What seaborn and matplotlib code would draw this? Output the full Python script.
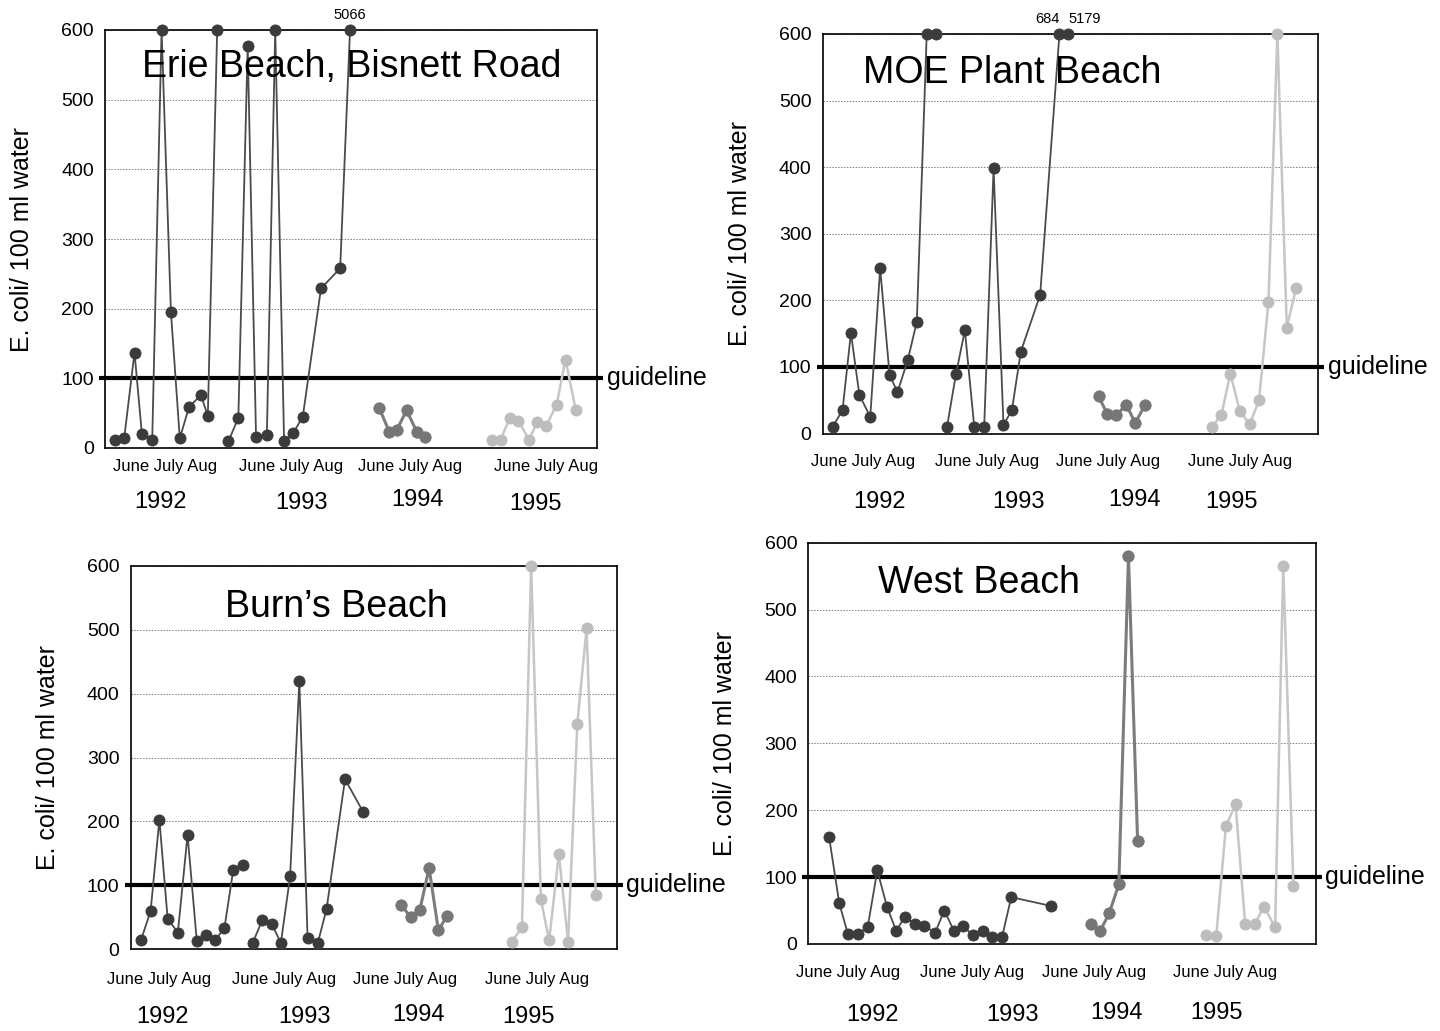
import numpy as np
import pandas as pd
import matplotlib
matplotlib.use("Agg")
import matplotlib.pyplot as plt
import seaborn as sns

sns.set_theme(style="white")
plt.rcParams["font.family"] = ["Liberation Sans", "DejaVu Sans"]
plt.rcParams["text.color"] = "black"
plt.rcParams["axes.labelcolor"] = "black"
plt.rcParams["ytick.color"] = "black"

YMAX = 600
GUIDELINE = 100
YEARS = ["1992", "1993", "1994", "1995"]

# Sampling positions along the four-summer timeline (0-100) and E. coli counts per 100 ml.
# Counts above 600 are shown at the top of the axis.
erie_t92 = [2.0, 3.9, 6.0, 7.5, 9.6, 11.5, 13.4, 15.2, 17.1, 19.5, 20.9, 22.8]
erie_v92 = [12, 14, 137, 20, 12, 600, 195, 14, 59, 76, 46, 600]
erie_t93 = [25.1, 27.1, 29.0, 30.7, 32.9, 34.6, 36.4, 38.3, 40.2, 43.9, 47.8, 49.8]
erie_v93 = [10, 43, 577, 16, 19, 600, 10, 22, 45, 229, 258, 5066]
erie_t94 = [55.7, 57.8, 59.3, 61.3, 63.4, 65.0]
erie_v94 = [58, 23, 26, 54, 23, 16]
erie_t95 = [78.7, 80.4, 82.3, 84.0, 86.2, 87.9, 89.6, 91.8, 93.6, 95.7]
erie_v95 = [12, 12, 43, 39, 12, 38, 31, 62, 127, 54]

moe_t92 = [2.0, 4.0, 5.7, 7.4, 9.6, 11.6, 13.5, 15.1, 17.2, 19.0, 21.0, 22.9]
moe_v92 = [10, 35, 151, 58, 25, 248, 88, 62, 111, 168, 600, 600]
moe_t93 = [25.1, 26.9, 28.7, 30.6, 32.6, 34.5, 36.5, 38.2, 40.0, 43.9, 47.8, 49.6]
moe_v93 = [10, 89, 155, 10, 10, 398, 13, 35, 123, 208, 684, 5179]
moe_t94 = [55.7, 57.4, 59.3, 61.3, 63.1, 65.1]
moe_v94 = [56, 30, 28, 43, 16, 43]
moe_t95 = [78.6, 80.5, 82.3, 84.2, 86.2, 88.1, 90.0, 91.8, 93.7, 95.6]
moe_v95 = [10, 28, 90, 34, 14, 50, 198, 600, 159, 219]

burn_t92 = [2.1, 4.1, 5.9, 7.6, 9.7, 11.7, 13.6, 15.4, 17.4, 19.3, 21.1, 23.1]
burn_v92 = [14, 60, 203, 48, 26, 179, 13, 22, 14, 34, 124, 132]
burn_t93 = [25.1, 27.1, 29.0, 30.9, 32.8, 34.7, 36.4, 38.5, 40.3, 44.1, 47.9]
burn_v93 = [10, 46, 40, 10, 114, 420, 17, 10, 63, 266, 214]
burn_t94 = [55.6, 57.6, 59.5, 61.4, 63.3, 65.1]
burn_v94 = [69, 51, 62, 127, 30, 52]
burn_t95 = [78.5, 80.5, 82.4, 84.4, 86.1, 88.1, 90.0, 91.9, 93.8, 95.7]
burn_v95 = [12, 35, 600, 78, 14, 149, 12, 353, 502, 85]

west_t92 = [4.1, 6.1, 7.8, 9.7, 11.7, 13.6, 15.5, 17.3, 19.1, 21.0, 22.9, 25.0, 26.8]
west_v92 = [160, 61, 15, 15, 25, 110, 56, 20, 41, 30, 27, 17, 50]
west_t93 = [28.7, 30.5, 32.4, 34.4, 36.3, 38.2, 40.0, 47.8]
west_v93 = [20, 27, 13, 20, 10, 11, 70, 57]
west_t94 = [55.7, 57.5, 59.3, 61.2, 63.1, 64.9]
west_v94 = [30, 19, 46, 89, 580, 154]
west_t95 = [78.3, 80.4, 82.3, 84.2, 86.1, 88.0, 89.8, 92.0, 93.6, 95.6]
west_v95 = [14, 12, 176, 209, 30, 30, 56, 25, 565, 87]

# Counts written above the axis for off-scale samples: (timeline position, count, x offset in pt)
erie_notes = [(erie_t93[-1], erie_v93[-1], 0)]
moe_notes = [(moe_t93[-2], moe_v93[-2], -9), (moe_t93[-1], moe_v93[-1], 12)]

year_style = {
    "1992": dict(line="#4b4b4b", face="#3b3b3b", lw=1.3, ms=8.0),
    "1993": dict(line="#4b4b4b", face="#3b3b3b", lw=1.3, ms=8.0),
    "1994": dict(line="#7c7c7c", face="#767676", lw=2.2, ms=8.2),
    "1995": dict(line="#c6c6c6", face="#bdbdbd", lw=1.8, ms=8.0),
}

fig = plt.figure(figsize=(14.4, 10.31), dpi=100)
W, H = 1440, 1031


def make_axes(left, top, right, bottom):
    return fig.add_axes([left / W, 1 - bottom / H, (right - left) / W, (bottom - top) / H])


panels = [
    dict(box=(105, 30, 597, 448), title="Erie Beach, Bisnett Road", title_xy=(0.502, 0.911),
         segs=[(erie_t92, erie_v92, "1992"), (erie_t93, erie_v93, "1993"),
               (erie_t94, erie_v94, "1994"), (erie_t95, erie_v95, "1995")],
         notes=erie_notes,
         months_x=[0.122, 0.378, 0.620, 0.896], months_dy=19,
         years_x=[0.112, 0.400, 0.636, 0.876], years_dy=[54, 55, 52, 56]),
    dict(box=(822.7, 34, 1318, 433.5), title="MOE Plant Beach", title_xy=(0.382, 0.902),
         segs=[(moe_t92, moe_v92, "1992"), (moe_t93, moe_v93, "1993"),
               (moe_t94, moe_v94, "1994"), (moe_t95, moe_v95, "1995")],
         notes=moe_notes,
         months_x=[0.081, 0.332, 0.576, 0.843], months_dy=28,
         years_x=[0.114, 0.396, 0.629, 0.825], years_dy=[68, 68, 66, 68]),
    dict(box=(130.7, 565.7, 616.7, 949.3), title="Burn\u2019s Beach", title_xy=(0.424, 0.892),
         segs=[(burn_t92, burn_v92, "1992"), (burn_t93, burn_v93, "1993"),
               (burn_t94, burn_v94, "1994"), (burn_t95, burn_v95, "1995")],
         notes=[],
         months_x=[0.058, 0.316, 0.565, 0.836], months_dy=30,
         years_x=[0.066, 0.357, 0.593, 0.818], years_dy=[68, 68, 66, 68]),
    dict(box=(808.3, 542.7, 1315.7, 944), title="West Beach", title_xy=(0.336, 0.90),
         segs=[(west_t92 + west_t93, west_v92 + west_v93, "1992"),
               (west_t94, west_v94, "1994"), (west_t95, west_v95, "1995")],
         notes=[],
         months_x=[0.078, 0.322, 0.563, 0.821], months_dy=29,
         years_x=[0.127, 0.403, 0.608, 0.805], years_dy=[71, 71, 69, 69]),
]

for p in panels:
    left, top, right, bottom = p["box"]
    ax = make_axes(left, top, right, bottom)
    width_px = right - left

    for t, v, yr in p["segs"]:
        st = year_style[yr]
        df = pd.DataFrame({"t": t, "count": np.minimum(np.asarray(v, float), YMAX)})
        sns.lineplot(data=df, x="t", y="count", ax=ax, estimator=None, sort=False,
                     color=st["line"], linewidth=st["lw"], marker="o",
                     markersize=st["ms"], markerfacecolor=st["face"],
                     markeredgecolor=st["face"], markeredgewidth=0.6, zorder=3)
    for line in ax.lines:
        line.set_clip_on(False)

    # provincial guideline
    ax.plot([-0.012, 1.012], [GUIDELINE, GUIDELINE], transform=ax.get_yaxis_transform(),
            color="black", linewidth=3.0, clip_on=False, zorder=2.5, solid_capstyle="butt")
    ax.annotate("guideline", xy=(1, GUIDELINE), xycoords=ax.get_yaxis_transform(),
                xytext=(7, 0), textcoords="offset points", va="center", ha="left",
                fontsize=18, color="black", annotation_clip=False)

    for t, v, dx in p["notes"]:
        ax.annotate(f"{v}", xy=(t, YMAX), xytext=(dx, 11), textcoords="offset points",
                    ha="center", va="center", fontsize=10.5, color="black",
                    annotation_clip=False)

    ax.set_xlim(0, 100)
    ax.set_ylim(0, YMAX)
    ax.set_yticks(np.arange(0, YMAX + 1, 100))
    ax.set_xticks([])
    ax.tick_params(axis="y", length=0, pad=8, labelsize=14, labelcolor="black")
    ax.yaxis.grid(True, color="#808080", linewidth=0.7, linestyle=(0, (1.5, 1.5)))
    ax.xaxis.grid(False)
    ax.set_axisbelow(True)
    for sp in ax.spines.values():
        sp.set_visible(True)
        sp.set_color("black")
        sp.set_linewidth(1.2)

    ax.set_xlabel("")
    ax.set_ylabel("E. coli/ 100 ml water", fontsize=18, color="black")
    ax.yaxis.set_label_coords(-71 / width_px, 0.5)

    ax.text(p["title_xy"][0], p["title_xy"][1], p["title"], transform=ax.transAxes,
            ha="center", va="center", fontsize=27, color="black", zorder=4)

    for xf in p["months_x"]:
        ax.annotate("June July Aug", xy=(xf, 0), xycoords="axes fraction",
                    xytext=(0, -p["months_dy"] * 0.72), textcoords="offset points",
                    ha="center", va="center", fontsize=12, color="black",
                    annotation_clip=False)
    for xf, yr, dy in zip(p["years_x"], YEARS, p["years_dy"]):
        ax.annotate(yr, xy=(xf, 0), xycoords="axes fraction",
                    xytext=(0, -dy * 0.72), textcoords="offset points",
                    ha="center", va="center", fontsize=17, color="black",
                    annotation_clip=False)

fig.savefig("out.png", dpi=100, facecolor="white")
